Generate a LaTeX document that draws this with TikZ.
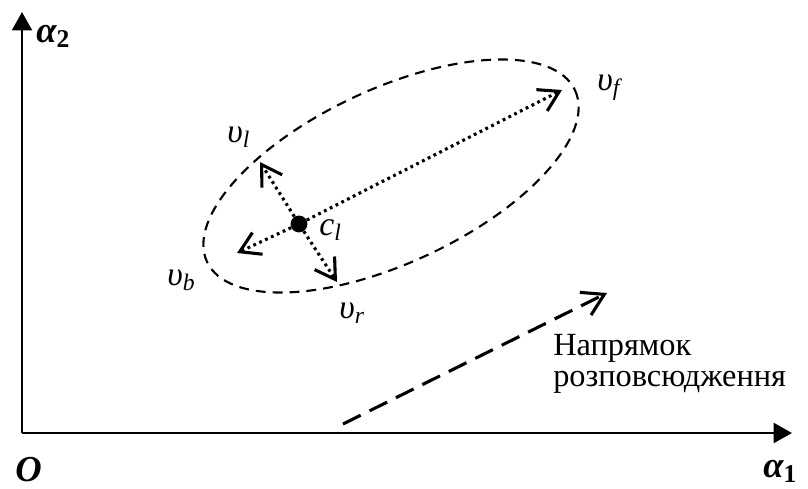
\documentclass[tikz,border=0pt]{standalone}
\usepackage{fontspec}
\setmainfont{Liberation Serif}
\usetikzlibrary{arrows.meta}
\begin{document}
\begin{tikzpicture}[x=0.025cm,y=-0.025cm,
  axis/.style={line width=2pt,-{Triangle[length=13pt,width=14pt]}},
  vec/.style={line width=2.2pt,dash pattern=on 2pt off 2.6pt,-{Straight Barb[length=14pt,width=17pt]}},
  lbl/.style={font=\fontsize{24}{26}\selectfont\itshape,inner sep=0,anchor=base west},
  axlbl/.style={font=\fontsize{26}{28}\selectfont\bfseries\itshape,inner sep=0,anchor=base west}]
\useasboundingbox (0,0) rectangle (808,488);
% axes
\coordinate (O) at (22,433);
\coordinate (xend) at (792,433);
\coordinate (yend) at (22,12);
\draw[axis] (O) -- (xend);
\draw[axis] (O) -- (yend);
\node[axlbl] (a2) at (36,42) {α\textsubscript{\upshape 2}};
\node[axlbl] (a1) at (763,477) {α\textsubscript{\upshape 1}};
\node[axlbl] (orig) at (15,481) {O};
% ellipse
\draw[line width=1.5pt,dash pattern=on 7pt off 5pt,rotate around={25:(391,176)}] (391,176) ellipse [x radius=203,y radius=87];
% centre and directions
\node[circle,fill,inner sep=0,minimum size=12pt] (cl) at (299,224) {};
\coordinate (tf) at (562,90);
\coordinate (tl) at (260,162);
\coordinate (tb) at (237,253);
\coordinate (tr) at (337,282);
\draw[vec] (cl) -- (tf);
\draw[vec] (cl) -- (tl);
\draw[vec] (cl) -- (tb);
\draw[vec] (cl) -- (tr);
\node[lbl] (vf) at (597,90) {υ\textsubscript{f}};
\node[lbl] (vl) at (227,142) {υ\textsubscript{l}};
\node[lbl] (vb) at (167,285) {υ\textsubscript{b}};
\node[lbl] (vr) at (339,318) {υ\textsubscript{r}};
\node[lbl] (cll) at (319,235) {c\textsubscript{l}};
% propagation direction
\coordinate (ds) at (343,424);
\coordinate (de) at (607,293);
\draw[line width=2.2pt,dash pattern=on 14pt off 7pt,-{Straight Barb[length=15pt,width=18pt]}] (ds) -- (de);
\node[font=\fontsize{23}{22}\selectfont,align=left,inner sep=0,anchor=north west] (dir) at (553,334) {Напрямок\\розповсюдження};
\end{tikzpicture}
\end{document}
